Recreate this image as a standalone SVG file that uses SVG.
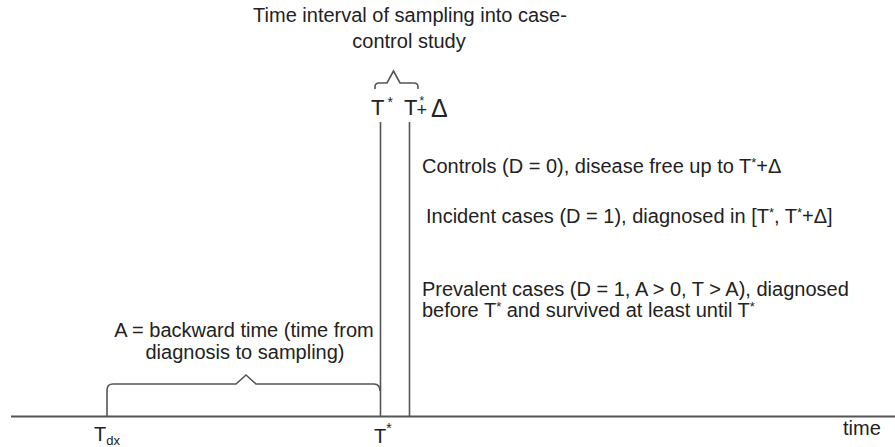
<svg xmlns="http://www.w3.org/2000/svg" width="895" height="447" viewBox="0 0 895 447">
<style>
text{font-family:"Liberation Sans",Arial,sans-serif;font-size:20px;fill:#222}
.ln{fill:none;stroke:#555;stroke-width:1.6}
.ax{fill:none;stroke:#555;stroke-width:2}
.sup{font-size:13px}
</style>
<rect width="895" height="447" fill="#fff"/>
<g id="connectors">
<line class="ax" x1="11" y1="416.5" x2="895" y2="416.5"/>
<line class="ln" x1="380.5" y1="122" x2="380.5" y2="417"/>
<line class="ln" x1="409.5" y1="122" x2="409.5" y2="417"/>
<path class="ln" d="M107 417 V390 Q107 384 113 384 H236 L246 375 L256 384 H374 Q380 384 380 391"/>
<path class="ln" d="M375 89 V87 Q375 83 379 83 H387 L393.5 71 L400 83 H414 Q418 83 418 87 V89"/>
</g>
<g id="interval-label">
<text text-anchor="middle"><tspan x="410" y="22">Time interval of sampling into case-</tspan><tspan x="409" y="48">control study</tspan></text>
</g>
<g id="interval-marks">
<text x="371" y="115" style="font-size:22px">T<tspan dx="3" dy="-8" style="font-size:14px">*</tspan></text>
<text x="404" y="115" style="font-size:22px">T<tspan dx="-1" dy="1" style="font-size:18px">+</tspan><tspan dx="-7.5" dy="-11" style="font-size:12px">*</tspan></text>
<text x="431" y="117" style="font-size:25px">Δ</text>
</g>
<g id="controls">
<text x="422" y="173">Controls (D = 0), disease free up to T<tspan class="sup" dy="-6">*</tspan><tspan dy="6">+Δ</tspan></text>
</g>
<g id="incident">
<text x="426" y="223">Incident cases (D = 1), diagnosed in [T<tspan class="sup" dy="-6">*</tspan><tspan dy="6">, T</tspan><tspan class="sup" dy="-6">*</tspan><tspan dy="6">+Δ]</tspan></text>
</g>
<g id="prevalent">
<text><tspan x="422" y="296">Prevalent cases (D = 1, A &gt; 0, T &gt; A), diagnosed</tspan><tspan x="422" y="317">before T</tspan><tspan class="sup" dy="-6">*</tspan><tspan dy="6"> and survived at least until T</tspan><tspan class="sup" dy="-6">*</tspan></text>
</g>
<g id="backward-time">
<text text-anchor="middle"><tspan x="244" y="337">A = backward time (time from</tspan><tspan x="245" y="359">diagnosis to sampling)</tspan></text>
</g>
<g id="axis-labels">
<text x="94" y="441">T<tspan style="font-size:13px" dy="4">dx</tspan></text>
<text x="374" y="443">T<tspan style="font-size:14px" dy="-10">*</tspan></text>
<text x="843" y="435">time</text>
</g>
</svg>
